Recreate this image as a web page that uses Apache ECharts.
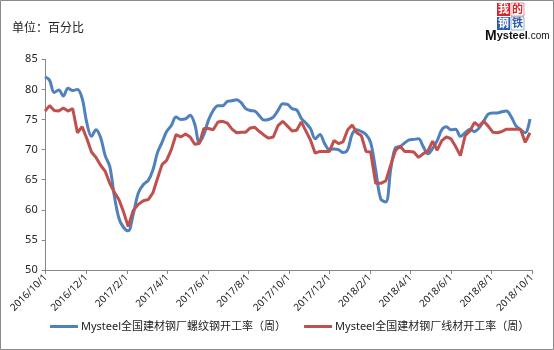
<!DOCTYPE html>
<html><head><meta charset="utf-8">
<script src="https://cdn.jsdelivr.net/npm/echarts@6/dist/echarts.min.js"></script>
<style>html,body{margin:0;padding:0;background:#fff}#c{width:554px;height:350px}</style>
</head><body><div id="c"></div><script>
const dates = [
'2016/9/30','2016/10/7','2016/10/14','2016/10/21','2016/10/28','2016/11/4','2016/11/11','2016/11/18','2016/11/25','2016/12/2','2016/12/9','2016/12/16','2016/12/23','2016/12/30',
'2017/1/6','2017/1/13','2017/1/20','2017/1/27','2017/2/3','2017/2/10','2017/2/17','2017/2/24','2017/3/3','2017/3/10','2017/3/17','2017/3/24','2017/3/31','2017/4/7','2017/4/14','2017/4/21','2017/4/28','2017/5/5','2017/5/12','2017/5/19','2017/5/26','2017/6/2','2017/6/9','2017/6/16','2017/6/23','2017/6/30','2017/7/7','2017/7/14','2017/7/21','2017/7/28','2017/8/4','2017/8/11','2017/8/18','2017/8/25','2017/9/1','2017/9/8','2017/9/15','2017/9/22','2017/9/29','2017/10/6','2017/10/13','2017/10/20','2017/10/27','2017/11/3','2017/11/10','2017/11/17','2017/11/24','2017/12/1','2017/12/8','2017/12/15','2017/12/22','2017/12/29',
'2018/1/5','2018/1/12','2018/1/19','2018/1/26','2018/2/2','2018/2/9','2018/2/16','2018/2/23','2018/3/2','2018/3/9','2018/3/16','2018/3/23','2018/3/30','2018/4/6','2018/4/13','2018/4/20','2018/4/27','2018/5/4','2018/5/11','2018/5/18','2018/5/25','2018/6/1','2018/6/8','2018/6/15','2018/6/22','2018/6/29','2018/7/6','2018/7/13','2018/7/20','2018/7/27','2018/8/3','2018/8/10','2018/8/17','2018/8/24','2018/8/31','2018/9/7','2018/9/14','2018/9/21','2018/9/28'
];
const rebar = [
82.1,81.5,79.5,79.9,78.9,80.2,79.8,80.0,78.5,74.4,72.2,73.3,72.0,69.0,67.2,62.3,58.6,57.1,56.5,59.3,
62.8,64.2,64.9,66.6,69.5,71.2,73.0,74.0,75.4,75.0,75.1,75.7,74.2,71.2,72.5,74.9,76.5,77.3,77.3,78.0,
78.1,78.3,77.8,76.8,76.5,76.4,75.6,74.9,75.0,75.4,76.5,77.6,77.5,76.8,76.6,75.2,74.4,73.5,71.8,72.5,
71.0,70.0,70.1,70.0,69.5,70.0,72.6,73.3,73.0,72.5,71.2,66.6,61.8,61.3,66.8,70.3,70.5,71.1,71.6,71.7,
71.8,70.5,69.3,70.2,71.5,73.3,73.8,73.3,73.4,72.2,72.8,73.4,73.0,73.6,74.7,75.9,76.1,76.1,76.3,76.4,
75.5,74.0,73.3,72.8,75.1
];
const wire = [
76.4,77.3,76.5,76.4,76.9,76.4,76.8,72.8,73.8,71.8,69.6,68.7,67.4,66.4,64.4,62.9,61.7,59.7,57.2,59.9,
60.9,61.5,61.7,62.8,65.2,67.5,68.2,70.0,72.5,72.1,72.6,72.1,70.9,71.0,73.5,73.5,73.3,74.6,74.7,74.4,
73.4,72.8,72.9,72.9,73.6,73.7,73.0,72.4,71.9,72.1,74.0,74.7,73.9,73.1,73.2,74.6,73.1,71.6,69.4,69.7,
69.7,69.7,71.5,71.0,71.3,73.3,74.1,72.8,72.3,69.7,69.6,64.4,64.4,64.8,67.5,69.8,70.6,69.7,69.7,69.6,
68.7,69.3,69.8,71.4,69.9,71.5,72.1,71.8,70.5,69.0,72.3,73.1,74.5,73.9,74.7,73.9,72.9,72.8,73.0,73.4,
73.4,73.4,73.4,71.2,72.8
];
const xTickLabels = ['2016/10/1','2016/12/1','2017/2/1','2017/4/1','2017/6/1','2017/8/1','2017/10/1','2017/12/1','2018/2/1','2018/4/1','2018/6/1','2018/8/1','2018/10/1'];
const seriesNames = ['Mysteel全国建材钢厂螺纹钢开工率（周）','Mysteel全国建材钢厂线材开工率（周）'];
const unitLabel = '单位：百分比';

function monthPos(s){
  const [y,m,d] = s.split('/').map(Number);
  const dim = new Date(y, m, 0).getDate();
  return (y-2016)*12 + (m-10) + (d-1)/dim;
}
const xs = dates.map(monthPos);
const ff = "'Noto Sans','Noto Sans CJK SC',sans-serif";
const chart = echarts.init(document.getElementById('c'), null, {renderer:'canvas'});
chart.setOption({
  animation:false,
  backgroundColor:'#fff',
  textStyle:{fontFamily:ff},
  grid:{left:45.7, right:22, top:59.3, bottom:80, containLabel:false},
  xAxis:{type:'value', min:0, max:24, interval:2,
    axisLine:{lineStyle:{color:'#868686',width:1}},
    axisTick:{show:true,length:4,lineStyle:{color:'#868686'}},
    splitLine:{show:false},
    axisLabel:{rotate:45, fontSize:10, color:'#222', margin:6, fontFamily:ff,
      formatter:v=>xTickLabels[Math.round(v/2)]}},
  yAxis:{type:'value', min:50, max:85, interval:5,
    axisLine:{show:true,lineStyle:{color:'#868686',width:1}},
    axisTick:{show:true,length:4,lineStyle:{color:'#868686'}},
    splitLine:{show:false},
    axisLabel:{fontSize:11, color:'#222', margin:8, fontFamily:ff}},
  legend:{left:45, top:316, itemWidth:28, itemHeight:3, itemGap:18, icon:'rect',
    textStyle:{fontSize:11, color:'#222', fontFamily:ff, padding:[0,0,0,-2]},
    data:seriesNames},
  series:[
    {name:seriesNames[0], type:'line', smooth:0.35, symbol:'none',
     lineStyle:{color:'#4F81BD', width:3}, itemStyle:{color:'#4F81BD'},
     data:xs.map((x,i)=>[x,rebar[i]])},
    {name:seriesNames[1], type:'line', smooth:false, symbol:'none',
     lineStyle:{color:'#C0504D', width:3}, itemStyle:{color:'#C0504D'},
     data:xs.map((x,i)=>[x,wire[i]])}
  ],
  graphic:[
    {type:'rect', shape:{x:0.5,y:0.5,width:553,height:349}, style:{fill:'none',stroke:'#898989',lineWidth:1}, silent:true},
    {type:'text', left:12, top:21, style:{text:unitLabel, font:"12px 'Noto Sans CJK SC'", fill:'#222'}},
    {type:'rect', shape:{x:497,y:3,width:13,height:13}, style:{fill:'#d7262b'}},
    {type:'text', x:498, y:3, style:{text:'我', font:"bold 11px 'Noto Sans CJK SC'", fill:'#fff'}},
    {type:'rect', shape:{x:511,y:3,width:13,height:13}, style:{fill:'#fff',stroke:'#d7262b',lineWidth:0.5}},
    {type:'text', x:512, y:3, style:{text:'的', font:"bold 11px 'Noto Sans CJK SC'", fill:'#d7262b'}},
    {type:'rect', shape:{x:497,y:17,width:13,height:13}, style:{fill:'#2a5caa'}},
    {type:'text', x:498, y:17, style:{text:'钢', font:"bold 11px 'Noto Sans CJK SC'", fill:'#fff'}},
    {type:'rect', shape:{x:511,y:17,width:13,height:13}, style:{fill:'#fff',stroke:'#2a5caa',lineWidth:0.5}},
    {type:'text', x:512, y:17, style:{text:'铁', font:"bold 11px 'Noto Sans CJK SC'", fill:'#2a5caa'}},
    {type:'text', x:485, y:29, style:{rich:{a:{font:"bold 14px 'Liberation Sans'",fill:'#111'},b:{font:"bold 11px 'Liberation Sans'",fill:'#111'},c:{font:"10px 'Liberation Sans'",fill:'#111'}}, text:'{a|M}{b|ysteel}{c|.com}'}}
  ]
});
</script></body></html>
